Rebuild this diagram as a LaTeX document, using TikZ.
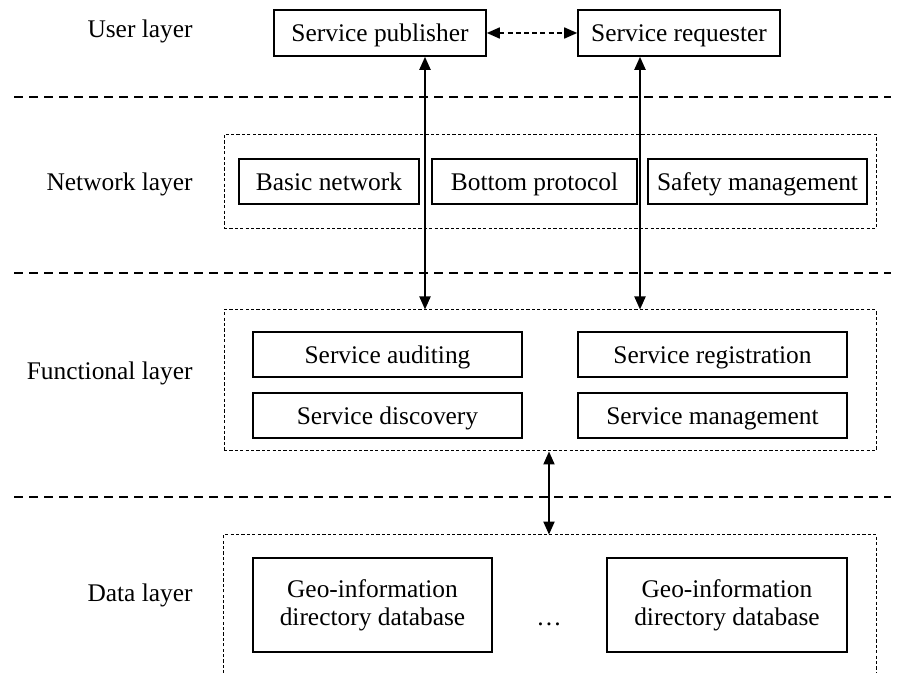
\documentclass[tikz,border=0pt]{standalone}
\usepackage{fontspec}
\setmainfont{Liberation Serif}
\usetikzlibrary{arrows.meta}

\begin{document}
\begin{tikzpicture}[x=0.5pt, y=-0.5pt,
    every node/.style={font=\fontsize{12.7}{14}\selectfont, inner sep=0pt},
    unit/.style={draw, line width=0.8pt, minimum height=22.5pt, align=center},
    oneline/.style={unit, text height=10.3pt, text depth=1.3pt},
    layerbox/.style={line width=0.5pt, dash pattern=on 1.6pt off 1.1pt},
    layername/.style={anchor=east, text height=10.3pt, text depth=1.3pt},
    sepline/.style={line width=1.3pt, dash pattern=on 4.5pt off 3pt},
    arr/.style={line width=1pt, {Triangle[length=6.5pt, width=5.5pt]}-{Triangle[length=6.5pt, width=5.5pt]}},
    dasharr/.style={arr, line width=0.8pt, dash pattern=on 2.5pt off 1.6pt}]
    \useasboundingbox (0,0) rectangle (901,673);

    % layer names
    \node[layername] (user) at (193,29) {User layer};
    \node[layername] (network) at (193,182) {Network layer};
    \node[layername] (functional) at (193,371) {Functional layer};
    \node[layername] (data) at (193,593) {Data layer};
    \foreach \y in {97,273,497}
        \draw[sepline] (14,\y) -- (891,\y);

    % user layer
    \node[oneline, minimum width=106pt, minimum height=23pt] (pub) at (380,33) {Service publisher};
    \node[oneline, minimum width=101pt, minimum height=23pt] (req) at (679,33) {Service requester};

    % network layer
    \node[draw, layerbox, minimum width=326pt, minimum height=47pt] (netlayer) at (550,181.5) {};
    \node[oneline, minimum width=90pt] (basic) at (329,181.5) {Basic network};
    \node[oneline, minimum width=102.5pt] (bottom) at (534.5,181.5) {Bottom protocol};
    \node[oneline, minimum width=109.5pt] (safety) at (757.5,181.5) {Safety management};

    % functional layer
    \node[draw, layerbox, minimum width=326pt, minimum height=70.5pt] (funclayer) at (550,380.5) {};
    \node[oneline, minimum width=134.5pt] (audit) at (387.5,354.5) {Service auditing};
    \node[oneline, minimum width=134.5pt] (regis) at (712.5,354.5) {Service registration};
    \node[oneline, minimum width=134.5pt] (disc) at (387.5,415.5) {Service discovery};
    \node[oneline, minimum width=134.5pt] (manage) at (712.5,415.5) {Service management};

    % data layer, open at the bottom edge
    \node[minimum width=326pt, minimum height=69pt] (datalayer) at (550,604) {};
    \draw[layerbox] (datalayer.south west) |- (datalayer.north east) -- (datalayer.south east);
    \node[unit, minimum width=119.5pt, minimum height=47pt] (db1) at (372.5,605) {Geo-information\\directory database};
    \node[unit, minimum width=120pt, minimum height=47pt] (db2) at (727,605) {Geo-information\\directory database};
    \node (dots) at (549,624) {\dots};

    % links
    \coordinate (colA) at (425,0);
    \coordinate (colB) at (640,0);
    \coordinate (colC) at (549,0);
    \draw[dasharr] (pub) -- (req);
    \draw[arr] (pub.south -| colA) -- (funclayer.north -| colA);
    \draw[arr] (req.south -| colB) -- (funclayer.north -| colB);
    \draw[arr] (funclayer.south -| colC) -- (datalayer.north -| colC);
\end{tikzpicture}
\end{document}
